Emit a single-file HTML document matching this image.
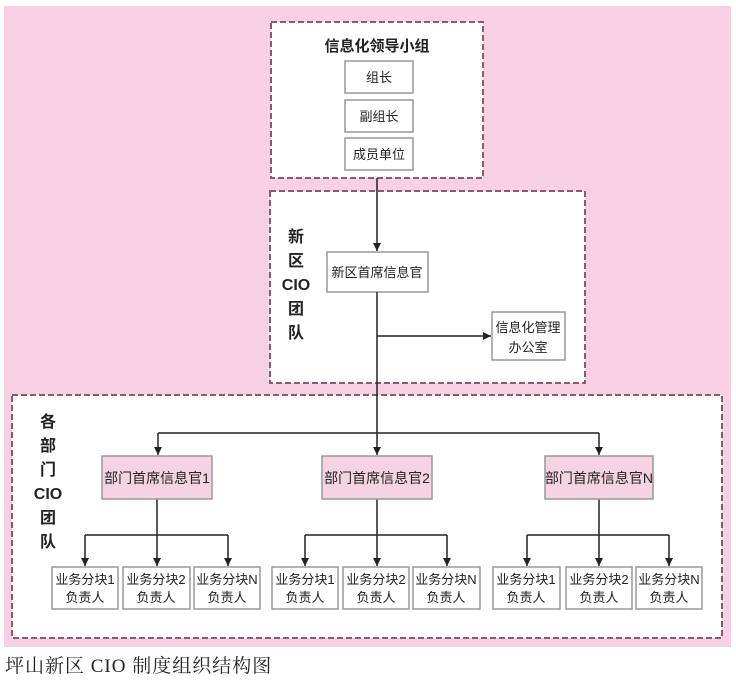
<!DOCTYPE html>
<html><head><meta charset="utf-8"><style>
body{margin:0;width:736px;height:681px;background:#fff;overflow:hidden}
svg text{font-family:"Liberation Sans","Noto Sans CJK SC",sans-serif;fill:#222}
</style></head><body>
<svg width="736" height="681" xmlns="http://www.w3.org/2000/svg">
<defs>
<marker id="d" markerWidth="8" markerHeight="8" refX="4" refY="8" orient="0" markerUnits="userSpaceOnUse"><path d="M0,0 L8,0 L4,8 z" fill="#222"/></marker>
<marker id="r" markerWidth="8" markerHeight="8" refX="8" refY="4" orient="0" markerUnits="userSpaceOnUse"><path d="M0,0 L8,4 L0,8 z" fill="#222"/></marker></defs>
<rect x="4" y="6" width="727" height="641" fill="#f8d0e3"/>
<g fill="#fff" stroke="#8a5a70" stroke-width="2" stroke-dasharray="6,3">
<rect x="271" y="22" width="212" height="156"/>
<rect x="270" y="191" width="315" height="192"/>
<rect x="12" y="395" width="710" height="243"/>
</g>
<text x="377" y="51" font-size="15" text-anchor="middle" font-weight="bold">信息化领导小组</text>
<g fill="#fff" stroke="#999" stroke-width="1.5">
<rect x="345" y="61" width="68" height="32"/><rect x="345" y="100" width="68" height="32"/><rect x="345" y="138" width="68" height="32"/>
<rect x="327" y="252" width="101" height="40"/><rect x="492" y="312" width="73" height="48"/>
</g>
<g font-size="13" text-anchor="middle">
<text x="379" y="82">组长</text><text x="379" y="121">副组长</text><text x="379" y="159">成员单位</text>
<text x="377" y="277">新区首席信息官</text><text x="528" y="332">信息化管理</text><text x="528" y="352">办公室</text>
</g>
<g font-size="16" text-anchor="middle" font-weight="bold">
<text x="296" y="242">新</text><text x="296" y="266">区</text><text x="296" y="290">CIO</text><text x="296" y="314">团</text><text x="296" y="338">队</text>
<text x="48" y="427">各</text><text x="48" y="451">部</text><text x="48" y="475">门</text><text x="48" y="499">CIO</text><text x="48" y="523">团</text><text x="48" y="547">队</text>
</g>
<g stroke="#222" stroke-width="1.5" fill="none">
<line x1="377" y1="178" x2="377" y2="251" marker-end="url(#d)"/>
<line x1="377" y1="292" x2="377" y2="433"/>
<line x1="377" y1="336" x2="491" y2="336" marker-end="url(#r)"/>
<line x1="158" y1="433" x2="599" y2="433"/>
<line x1="158" y1="433" x2="158" y2="455" marker-end="url(#d)"/>
<line x1="377" y1="433" x2="377" y2="455" marker-end="url(#d)"/>
<line x1="599" y1="433" x2="599" y2="455" marker-end="url(#d)"/>
<line x1="157" y1="499" x2="157" y2="566" marker-end="url(#d)"/><line x1="85" y1="535" x2="228" y2="535"/>
<line x1="85" y1="535" x2="85" y2="566" marker-end="url(#d)"/><line x1="228" y1="535" x2="228" y2="566" marker-end="url(#d)"/>
<line x1="377" y1="499" x2="377" y2="566" marker-end="url(#d)"/><line x1="305" y1="535" x2="447" y2="535"/>
<line x1="305" y1="535" x2="305" y2="566" marker-end="url(#d)"/><line x1="447" y1="535" x2="447" y2="566" marker-end="url(#d)"/>
<line x1="599" y1="499" x2="599" y2="566" marker-end="url(#d)"/><line x1="527" y1="535" x2="669" y2="535"/>
<line x1="527" y1="535" x2="527" y2="566" marker-end="url(#d)"/><line x1="669" y1="535" x2="669" y2="566" marker-end="url(#d)"/>
</g>
<g fill="#f5d3e2" stroke="#999" stroke-width="1.5">
<rect x="102" y="456" width="110" height="43"/><rect x="322" y="456" width="110" height="43"/><rect x="545" y="456" width="108" height="43"/>
</g>
<g font-size="14" text-anchor="middle" fill="#333">
<text x="157" y="483">部门首席信息官1</text><text x="377" y="483">部门首席信息官2</text><text x="599" y="483">部门首席信息官N</text>
</g>
<g fill="#fff" stroke="#999" stroke-width="1.5">
<rect x="52" y="567" width="66" height="42"/><rect x="123" y="567" width="67" height="42"/><rect x="194" y="567" width="66" height="42"/>
<rect x="272" y="567" width="66" height="42"/><rect x="343" y="567" width="66" height="42"/><rect x="413" y="567" width="67" height="42"/>
<rect x="493" y="567" width="67" height="42"/><rect x="566" y="567" width="66" height="42"/><rect x="636" y="567" width="66" height="42"/>
</g>
<g font-size="13" text-anchor="middle">
<text x="85" y="584">业务分块1</text><text x="85" y="602">负责人</text>
<text x="156" y="584">业务分块2</text><text x="156" y="602">负责人</text>
<text x="227" y="584">业务分块N</text><text x="227" y="602">负责人</text>
<text x="305" y="584">业务分块1</text><text x="305" y="602">负责人</text>
<text x="376" y="584">业务分块2</text><text x="376" y="602">负责人</text>
<text x="446" y="584">业务分块N</text><text x="446" y="602">负责人</text>
<text x="526" y="584">业务分块1</text><text x="526" y="602">负责人</text>
<text x="599" y="584">业务分块2</text><text x="599" y="602">负责人</text>
<text x="669" y="584">业务分块N</text><text x="669" y="602">负责人</text>
</g>
<text x="5" y="672" font-size="19" style="font-family:'Liberation Serif','Noto Serif CJK SC',serif" letter-spacing="1">坪山新区 CIO 制度组织结构图</text>
</svg>
</body></html>
